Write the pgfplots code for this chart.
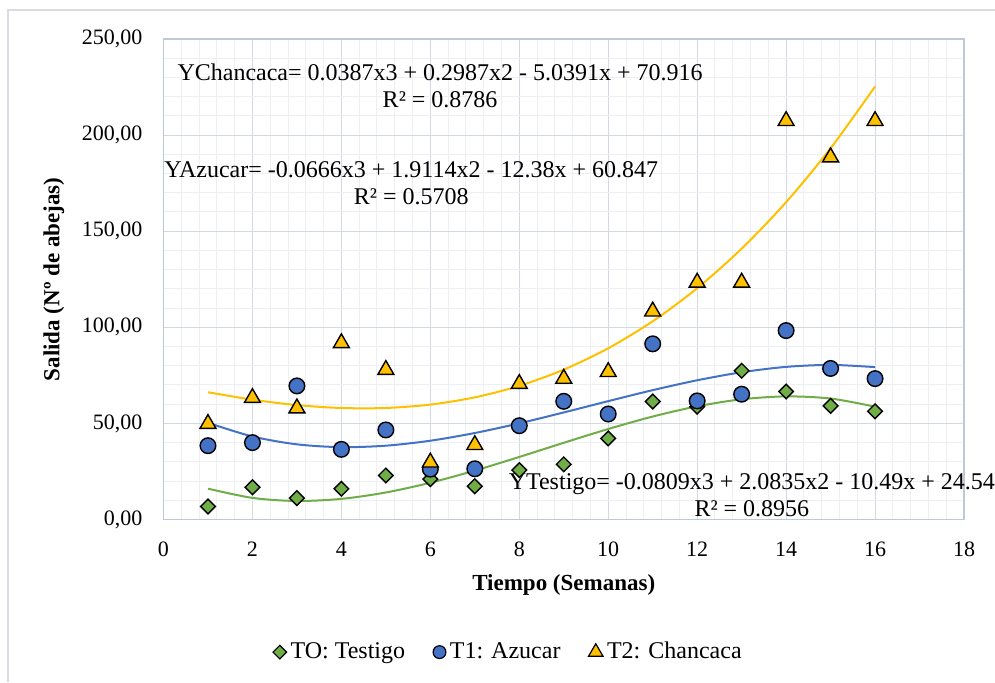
\documentclass[border=0pt]{standalone}
\usepackage{fontspec}
\setmainfont{Liberation Serif}
\usepackage{pgfplots}
\pgfplotsset{compat=1.18}
\usepackage{pgfplotstable}
\definecolor{cGreen}{HTML}{70AD47}
\definecolor{cBlue}{HTML}{4472C4}
\definecolor{cGold}{HTML}{FFC000}
\definecolor{cAxis}{HTML}{BFC8D6}
\definecolor{cMajor}{HTML}{D3D9E2}
\definecolor{cMinor}{HTML}{EDEFF3}
\definecolor{cFrame}{HTML}{D9DCE2}

\pgfplotstableread{
x y
1 6.8
2 16.8
3 11.1
4 16.0
5 22.9
6 21.0
7 17.3
8 25.7
9 28.7
10 42.2
11 61.4
12 58.7
13 77.4
14 66.6
15 59.1
16 56.3
}\testigo
\pgfplotstableread{
x y
1 38.4
2 40.0
3 69.5
4 36.5
5 46.6
6 26.2
7 26.4
8 48.8
9 61.5
10 54.9
11 91.4
12 61.7
13 65.2
14 98.3
15 78.6
16 73.3
}\azucar
\pgfplotstableread{
x y
1 49.8
2 63.3
3 57.9
4 91.8
5 77.9
6 29.7
7 38.8
8 70.6
9 73.3
10 76.8
11 108.3
12 123.3
13 123.3
14 207.4
15 188.5
16 207.4
}\chancaca

\begin{document}
\begin{tikzpicture}
\useasboundingbox (-81.75pt,-81.25pt) rectangle (415.75pt,259.75pt);
\draw[cFrame, line width=0.75pt] (-77.75pt,-81.25pt) -- (-77.75pt,254.75pt) -- (415.75pt,254.75pt);
\begin{axis}[
  at={(0pt,0pt)}, anchor=south west,
  width=400.25pt, height=240.25pt, scale only axis,
  xmin=0, xmax=18, ymin=0, ymax=250,
  xtick={0,2,4,6,8,10,12,14,16,18}, ytick={0,50,100,150,200,250},
  minor xtick={0.4,0.8,1.2,1.6,2.4,2.8,3.2,3.6,4.4,4.8,5.2,5.6,6.4,6.8,7.2,7.6,8.4,8.8,9.2,9.6,10.4,10.8,11.2,11.6,12.4,12.8,13.2,13.6,14.4,14.8,15.2,15.6,16.4,16.8,17.2,17.6},
  minor ytick={10,20,30,40,60,70,80,90,110,120,130,140,160,170,180,190,210,220,230,240},
  grid=both,
  major grid style={cMajor, line width=0.5pt},
  minor grid style={cMinor, line width=0.5pt},
  axis line style={cAxis, line width=0.8pt},
  major tick length=0pt, minor tick length=0pt,
  tick style={draw=none},
  /pgf/number format/assume math mode=true,
  y tick label style={/pgf/number format/fixed, /pgf/number format/fixed zerofill, /pgf/number format/precision=2, /pgf/number format/use comma},
  y tick label style={font=\fontsize{11}{13}\selectfont, xshift=-7pt},
  x tick label style={font=\fontsize{11}{13}\selectfont, yshift=-7.5pt},
  xlabel={\textbf{Tiempo (Semanas)}},
  ylabel={\textbf{Salida (Nº de abejas)}},
  xlabel style={font=\fontsize{11.5}{13}\selectfont, at={(axis description cs:0.5,-0.136)}, anchor=center},
  ylabel style={font=\fontsize{11.5}{13}\selectfont, at={(axis description cs:-0.137,0.5)}, anchor=center},
  legend columns=3,
  legend style={draw=none, fill=none, at={(axis description cs:0.432,-0.276)}, anchor=center,
    font=\fontsize{12}{13}\selectfont,
    /tikz/every odd column/.append style={column sep=0pt},
    /tikz/every even column/.append style={column sep=12pt}},
  legend cell align=left,
  legend image code/.code={\draw[#1] plot coordinates {(0pt,0pt)};},
  clip=false,
]
\addplot[forget plot, only marks, mark=square*, mark size=2.6pt, mark options={rotate=45, fill=cGreen, draw=black, line width=0.7pt}] table[x=x,y=y] {\testigo};
\addplot[forget plot, only marks, mark=*, mark size=3.9pt, mark options={fill=cBlue, draw=black, line width=0.7pt}] table[x=x,y=y] {\azucar};
\addplot[forget plot, only marks, mark=triangle*, mark size=4.6pt, mark options={fill=cGold, draw=black, line width=0.7pt}] table[x=x,y=y] {\chancaca};

\addlegendimage{only marks, mark=square*, mark size=2.4pt, mark options={rotate=45, fill=cGreen, draw=black, line width=0.6pt}}
\addlegendentry{TO: Testigo}
\addlegendimage{only marks, mark=*, mark size=3.2pt, mark options={fill=cBlue, draw=black, line width=0.6pt}}
\addlegendentry{T1: Azucar}
\addlegendimage{only marks, mark=triangle*, mark size=4.2pt, mark options={fill=cGold, draw=black, line width=0.6pt}}
\addlegendentry{T2: Chancaca}

% polynomial trendlines (values of the fitted curves shown on the chart)
\addplot[forget plot, cGreen, line width=1pt, smooth, no marks] coordinates {
(1,16.053)(2,11.247)(3,9.637)(4,10.738)(5,14.065)(6,19.132)(7,25.453)(8,32.543)
(9,39.917)(10,47.09)(11,53.576)(12,58.889)(13,62.544)(14,64.056)(15,62.94)(16,58.709)};
\addplot[forget plot, cBlue, line width=1pt, smooth, no marks] coordinates {
(1,50.312)(2,43.200)(3,39.111)(4,37.647)(5,38.407)(6,40.992)(7,45.002)(8,50.037)
(9,55.699)(10,61.587)(11,67.302)(12,72.444)(13,76.613)(14,79.411)(15,80.437)(16,79.292)};
\addplot[forget plot, cGold, line width=1pt, smooth, no marks] coordinates {
(1,66.214)(2,62.342)(3,59.532)(4,58.016)(5,58.026)(6,59.794)(7,63.553)(8,69.535)
(9,77.971)(10,89.095)(11,103.139)(12,120.333)(13,140.912)(14,165.107)(15,193.150)(16,225.273)};

\node[align=center, font=\fontsize{12}{13.5}\selectfont, inner sep=0pt] at (axis cs:6.22,225.8)
  {YChancaca= 0.0387x3 + 0.2987x2 - 5.0391x + 70.916\\R² = 0.8786};
\node[align=center, font=\fontsize{12}{13.5}\selectfont, inner sep=0pt] at (axis cs:5.57,174.8)
  {YAzucar= -0.0666x3 + 1.9114x2 - 12.38x + 60.847\\R² = 0.5708};
\node[align=center, font=\fontsize{12}{13.5}\selectfont, inner sep=0pt] at (axis cs:13.23,12.5)
  {YTestigo= -0.0809x3 + 2.0835x2 - 10.49x + 24.54\\R² = 0.8956};
\end{axis}
\end{tikzpicture}
\end{document}
